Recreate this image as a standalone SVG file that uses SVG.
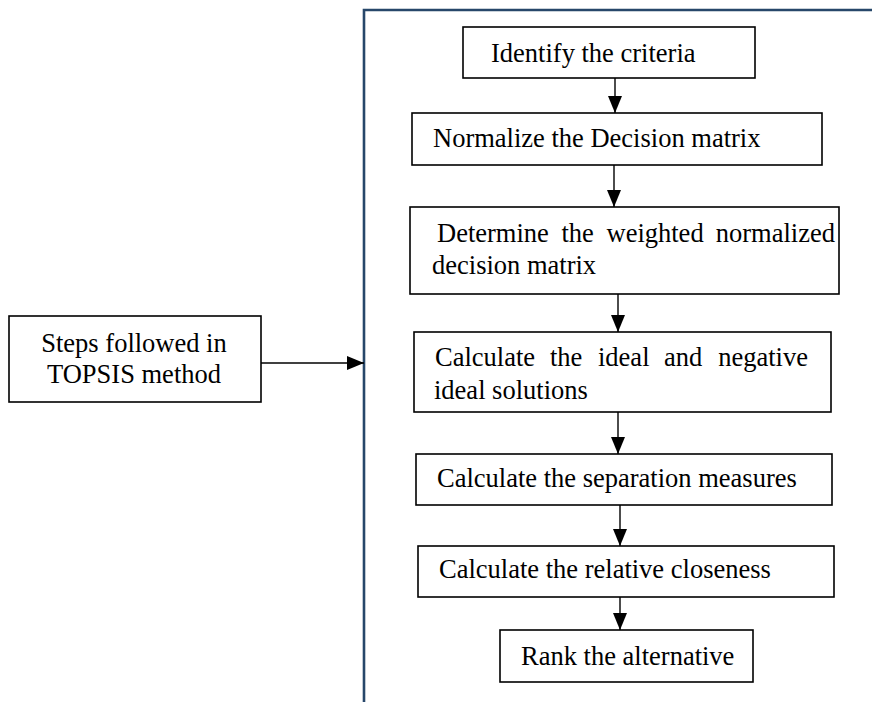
<svg xmlns="http://www.w3.org/2000/svg" width="872" height="702" viewBox="0 0 872 702">
<style>
.box{fill:#fff;stroke:#000;stroke-width:1.6}
.t{font-family:"Liberation Serif","Times New Roman",serif;font-size:26.5px;fill:#000}
.c{stroke:#000;stroke-width:1.4;fill:none;marker-end:url(#ah)}
.frame{fill:none;stroke:#27476a;stroke-width:2.6}
</style>
<defs>
<marker id="ah" markerUnits="userSpaceOnUse" markerWidth="17" markerHeight="14" refX="17" refY="7" orient="auto">
<path d="M0,0 L17,7 L0,14 z" fill="#000"/>
</marker>
</defs>
<path class="frame" d="M364,702 V10 H872"/>
<g id="connectors">
<line class="c" x1="615" y1="78" x2="615" y2="113"/>
<line class="c" x1="614" y1="165" x2="614" y2="207"/>
<line class="c" x1="618" y1="294" x2="618" y2="332"/>
<line class="c" x1="618" y1="412" x2="618" y2="454"/>
<line class="c" x1="620" y1="505" x2="620" y2="546"/>
<line class="c" x1="620" y1="597" x2="620" y2="630"/>
<line class="c" x1="252" y1="363" x2="364" y2="363"/>
</g>
<g id="n-steps">
<rect class="box" x="9" y="316" width="252" height="86"/>
<text class="t" x="134" y="352" text-anchor="middle">Steps followed in</text>
<text class="t" x="134" y="383" text-anchor="middle">TOPSIS method</text>
</g>
<g id="n-identify">
<rect class="box" x="463" y="27" width="292" height="51"/>
<text class="t" x="491" y="62">Identify the criteria</text>
</g>
<g id="n-normalize">
<rect class="box" x="412" y="113" width="410" height="52"/>
<text class="t" x="433" y="147">Normalize the Decision matrix</text>
</g>
<g id="n-weighted">
<rect class="box" x="410" y="207" width="429" height="87"/>
<text class="t" y="242"><tspan x="437">Determine</tspan><tspan x="561.5">the</tspan><tspan x="606.5">weighted</tspan></text>
<text class="t" x="835" y="242" text-anchor="end">normalized</text>
<text class="t" x="432" y="274">decision matrix</text>
</g>
<g id="n-ideal">
<rect class="box" x="414" y="332" width="417" height="80"/>
<text class="t" y="366"><tspan x="435">Calculate</tspan><tspan x="550">the</tspan><tspan x="598">ideal</tspan><tspan x="664">and</tspan></text>
<text class="t" x="808" y="366" text-anchor="end">negative</text>
<text class="t" x="434" y="399">ideal solutions</text>
</g>
<g id="n-separation">
<rect class="box" x="416" y="454" width="416" height="51"/>
<text class="t" x="437" y="487">Calculate the separation measures</text>
</g>
<g id="n-closeness">
<rect class="box" x="418" y="546" width="416" height="51"/>
<text class="t" x="439" y="578">Calculate the relative closeness</text>
</g>
<g id="n-rank">
<rect class="box" x="500" y="630" width="253" height="52"/>
<text class="t" x="521" y="665">Rank the alternative</text>
</g>
</svg>
